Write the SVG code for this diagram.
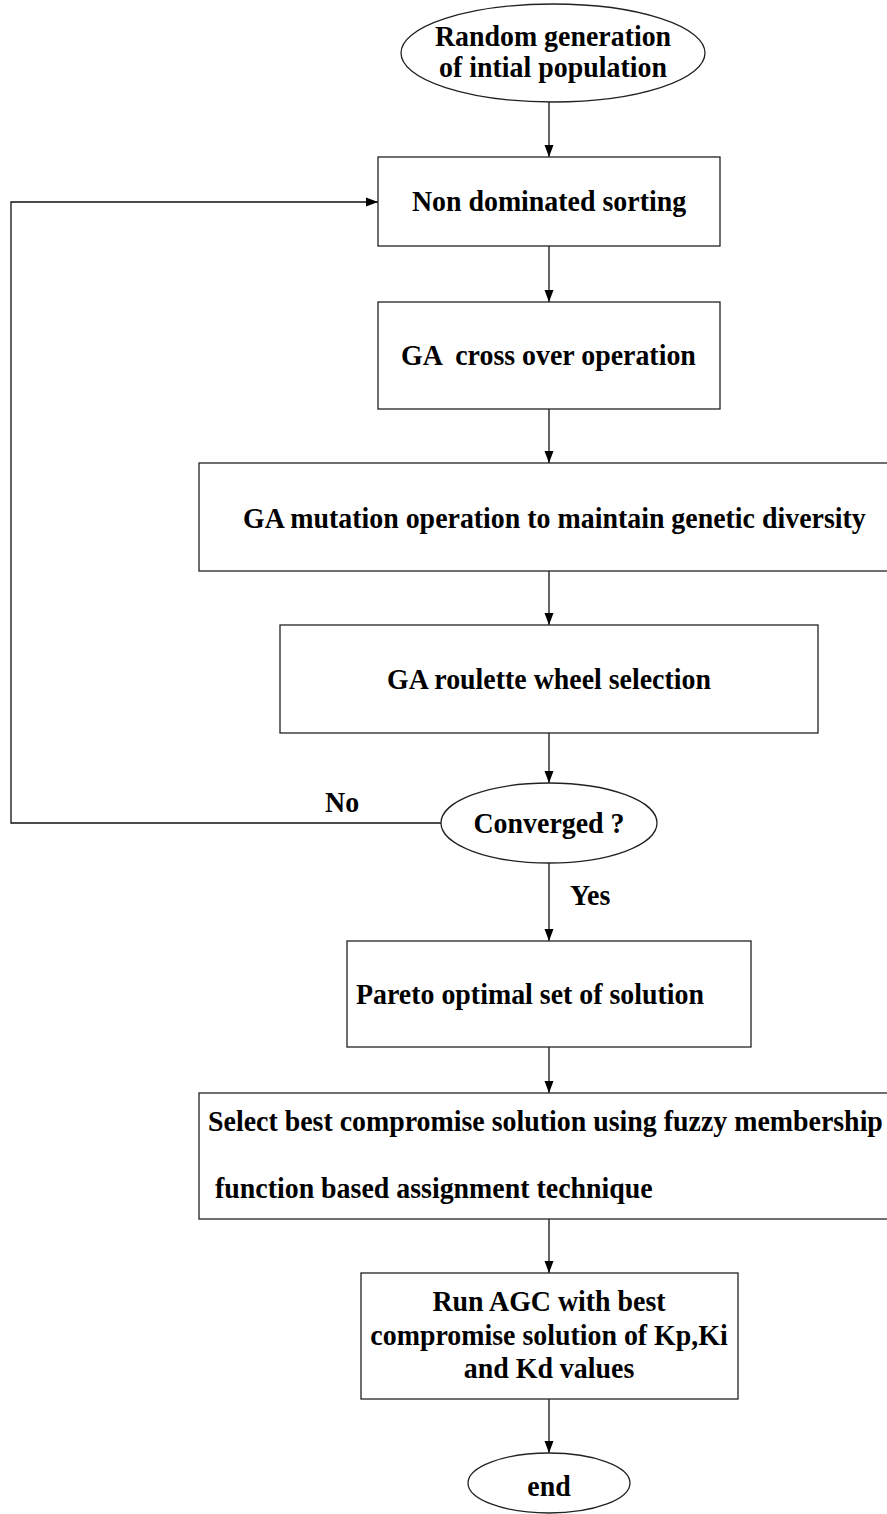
<svg xmlns="http://www.w3.org/2000/svg" width="887" height="1514" viewBox="0 0 887 1514">
  <style>
    .shape { fill: #ffffff; stroke: #222222; stroke-width: 1.3; }
    .wire { fill: none; stroke: #111111; stroke-width: 1.3; }
    .lbl { font-family: "Liberation Serif", "Times New Roman", serif; font-weight: bold; font-size: 30px; fill: #000000; }
    .mid { text-anchor: middle; }
  </style>
  <defs>
    <marker id="arrow" viewBox="0 0 12 10" refX="12" refY="5" markerWidth="12" markerHeight="10" markerUnits="userSpaceOnUse" orient="auto">
      <path d="M0,0.5 L12,5 L0,9.5 Z" fill="#000000"/>
    </marker>
  </defs>
  <rect width="887" height="1514" fill="#ffffff"/>

  <!-- connectors -->
  <g id="connectors">
    <line class="wire" x1="549" y1="102" x2="549" y2="157" marker-end="url(#arrow)"/>
    <line class="wire" x1="549" y1="246" x2="549" y2="302" marker-end="url(#arrow)"/>
    <line class="wire" x1="549" y1="409" x2="549" y2="463" marker-end="url(#arrow)"/>
    <line class="wire" x1="549" y1="571" x2="549" y2="625" marker-end="url(#arrow)"/>
    <line class="wire" x1="549" y1="733" x2="549" y2="783" marker-end="url(#arrow)"/>
    <polyline class="wire" points="441,823 11,823 11,202 378,202" marker-end="url(#arrow)"/>
    <line class="wire" x1="549" y1="863" x2="549" y2="941" marker-end="url(#arrow)"/>
    <line class="wire" x1="549" y1="1047" x2="549" y2="1093" marker-end="url(#arrow)"/>
    <line class="wire" x1="549" y1="1219" x2="549" y2="1273" marker-end="url(#arrow)"/>
    <line class="wire" x1="549" y1="1399" x2="549" y2="1453" marker-end="url(#arrow)"/>
    <text class="lbl" transform="translate(325,812) scale(0.93,1)">No</text>
    <text class="lbl" transform="translate(570,905) scale(0.93,1)">Yes</text>
  </g>

  <g id="start">
    <ellipse class="shape" cx="553" cy="53" rx="152" ry="49"/>
    <text class="lbl mid" transform="translate(553,46) scale(0.93,1)">Random generation</text>
    <text class="lbl mid" transform="translate(553,77) scale(0.93,1)">of intial population</text>
  </g>

  <g id="sorting">
    <rect class="shape" x="378" y="157" width="342" height="89"/>
    <text class="lbl mid" transform="translate(549,211) scale(0.93,1)">Non dominated sorting</text>
  </g>

  <g id="crossover">
    <rect class="shape" x="378" y="302" width="342" height="107"/>
    <text class="lbl" transform="translate(401,365) scale(0.93,1)" xml:space="preserve">GA  cross over operation</text>
  </g>

  <g id="mutation">
    <rect class="shape" x="199" y="463" width="700" height="108"/>
    <text class="lbl" transform="translate(243,528) scale(0.93,1)">GA mutation operation to maintain genetic diversity</text>
  </g>

  <g id="selection">
    <rect class="shape" x="280" y="625" width="538" height="108"/>
    <text class="lbl mid" transform="translate(549,689) scale(0.93,1)">GA roulette wheel selection</text>
  </g>

  <g id="converged">
    <ellipse class="shape" cx="549" cy="823" rx="108" ry="40"/>
    <text class="lbl mid" transform="translate(549,833) scale(0.93,1)">Converged ?</text>
  </g>

  <g id="pareto">
    <rect class="shape" x="347" y="941" width="404" height="106"/>
    <text class="lbl" transform="translate(356,1004) scale(0.93,1)">Pareto optimal set of solution</text>
  </g>

  <g id="compromise">
    <rect class="shape" x="199" y="1093" width="700" height="126"/>
    <text class="lbl" transform="translate(208,1131) scale(0.93,1)">Select best compromise solution using fuzzy membership</text>
    <text class="lbl" transform="translate(208,1198) scale(0.93,1)" xml:space="preserve"> function based assignment technique</text>
  </g>

  <g id="run-agc">
    <rect class="shape" x="361" y="1273" width="377" height="126"/>
    <text class="lbl mid" transform="translate(549,1311) scale(0.93,1)">Run AGC with best</text>
    <text class="lbl mid" transform="translate(549,1345) scale(0.93,1)">compromise solution of Kp,Ki</text>
    <text class="lbl mid" transform="translate(549,1378) scale(0.93,1)">and Kd values</text>
  </g>

  <g id="end">
    <ellipse class="shape" cx="549" cy="1483" rx="81" ry="30"/>
    <text class="lbl mid" transform="translate(549,1496) scale(0.93,1)">end</text>
  </g>
</svg>
